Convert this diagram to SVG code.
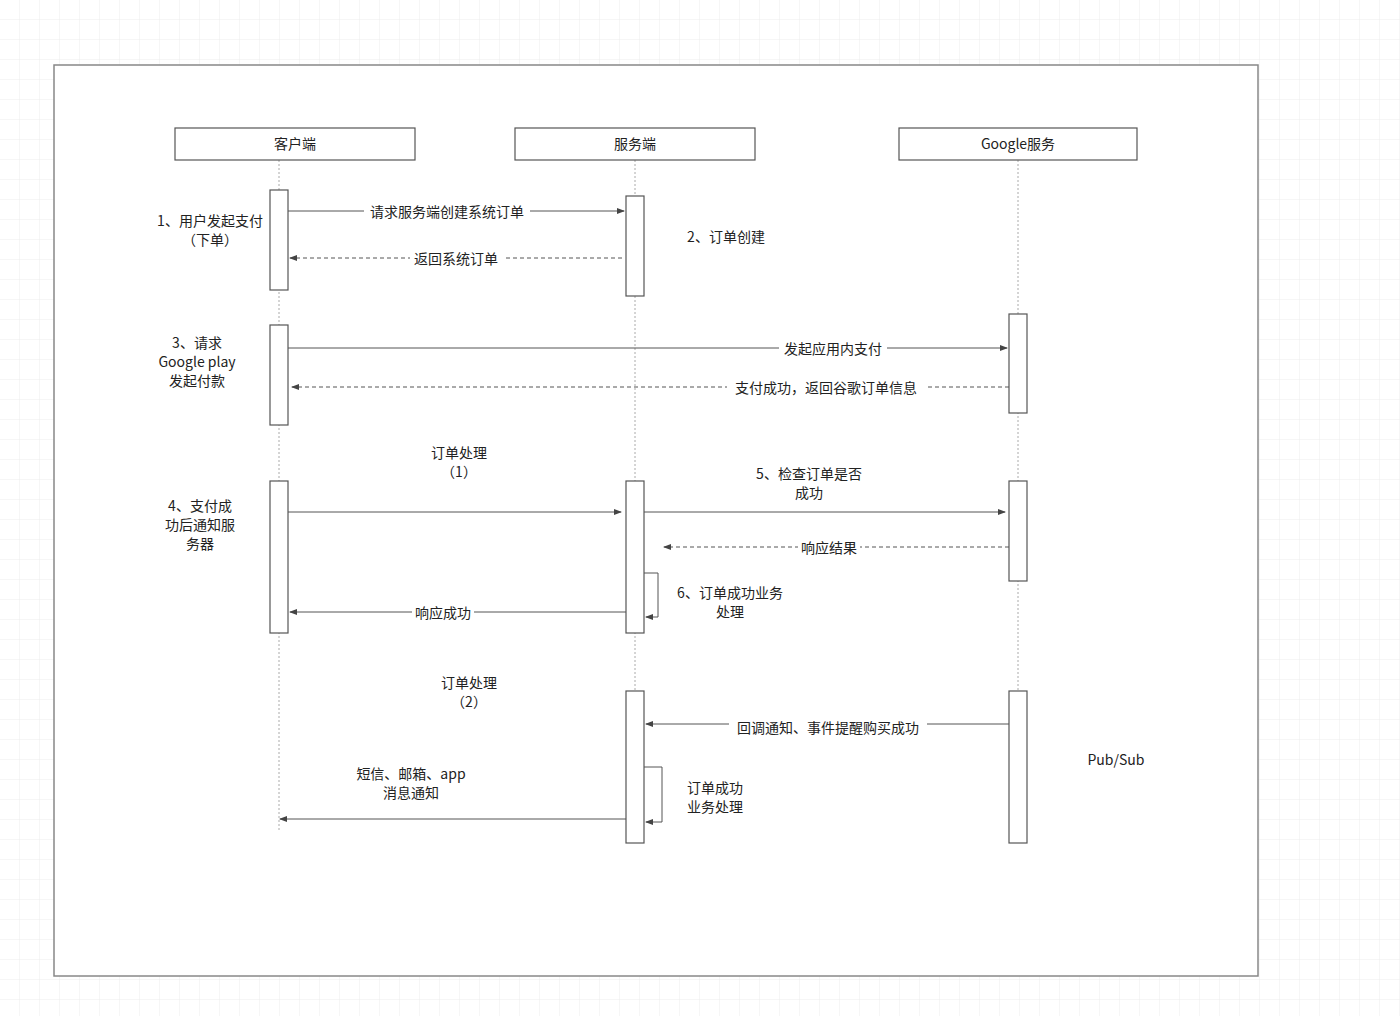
<svg xmlns="http://www.w3.org/2000/svg" width="1400" height="1016" viewBox="0 0 1400 1016">
<defs>
<pattern id="grid" width="20" height="20" patternUnits="userSpaceOnUse"><path d="M20 0V20H0" fill="none" stroke="#ececec" stroke-width="1"/></pattern>
<marker id="a" markerWidth="8" markerHeight="6" refX="7" refY="3" orient="auto" markerUnits="userSpaceOnUse"><path d="M0 0L8 3L0 6z" fill="#444"/></marker>
<style>
text{font-family:"Noto Sans CJK SC","Noto Sans",sans-serif;font-size:14px;fill:#222;text-anchor:middle}
.hd{fill:#fff;stroke:#555;stroke-width:1.2}
.act{fill:#fff;stroke:#555;stroke-width:1.2}
.life{stroke:#aaa;stroke-dasharray:2 2;fill:none}
.m{stroke:#555;stroke-width:1;fill:none;marker-end:url(#a)}
.d{stroke:#555;stroke-width:1;fill:none;stroke-dasharray:4 3;marker-end:url(#a)}
.lb{fill:#fff;stroke:none}
</style>
</defs>
<rect width="1400" height="1016" fill="#fff"/>
<rect width="1400" height="1016" fill="url(#grid)"/>
<rect x="54" y="65" width="1204" height="911" fill="#fff" stroke="#888" stroke-width="1.5"/>
<g id="lifelines">
<line class="life" x1="279" y1="160" x2="279" y2="832"/>
<line class="life" x1="635" y1="160" x2="635" y2="843"/>
<line class="life" x1="1018" y1="160" x2="1018" y2="843"/>
</g>
<g id="client"><rect class="hd" x="175" y="128" width="240" height="32"/><text x="295" y="149">客户端</text></g>
<g id="server"><rect class="hd" x="515" y="128" width="240" height="32"/><text x="635" y="149">服务端</text></g>
<g id="google"><rect class="hd" x="899" y="128" width="238" height="32"/><text x="1018" y="149">Google服务</text></g>
<g id="activations">
<rect class="act" x="270" y="190" width="18" height="100"/>
<rect class="act" x="270" y="325" width="18" height="100"/>
<rect class="act" x="270" y="481" width="18" height="152"/>
<rect class="act" x="626" y="196" width="18" height="100"/>
<rect class="act" x="626" y="481" width="18" height="152"/>
<rect class="act" x="626" y="691" width="18" height="152"/>
<rect class="act" x="1009" y="314" width="18" height="99"/>
<rect class="act" x="1009" y="481" width="18" height="100"/>
<rect class="act" x="1009" y="691" width="18" height="152"/>
</g>
<g id="connectors">
<path class="m" d="M288 211H624"/>
<path class="d" d="M622 258H290"/>
<path class="m" d="M288 348H1007"/>
<path class="d" d="M1009 387H292"/>
<path class="m" d="M288 512H621"/>
<path class="m" d="M644 512H1005"/>
<path class="d" d="M1009 547H664"/>
<path class="m" d="M644 573H658V617H646"/>
<path class="m" d="M626 612H290"/>
<path class="m" d="M1009 724H646"/>
<path class="m" d="M644 767H662V822H646"/>
<path class="m" d="M626 819H280"/>
</g>
<g id="labels">
<rect class="lb" x="364" y="203" width="166" height="18"/><text x="447" y="217">请求服务端创建系统订单</text>
<rect class="lb" x="410" y="250" width="94" height="18"/><text x="456" y="264">返回系统订单</text>
<rect class="lb" x="779" y="340" width="108" height="18"/><text x="833" y="354">发起应用内支付</text>
<rect class="lb" x="727" y="379" width="198" height="18"/><text x="826" y="393">支付成功，返回谷歌订单信息</text>
<rect class="lb" x="798" y="539" width="62" height="18"/><text x="829" y="553">响应结果</text>
<rect class="lb" x="412" y="604" width="62" height="18"/><text x="443" y="618">响应成功</text>
<rect class="lb" x="729" y="716" width="198" height="18"/><text x="828" y="733">回调通知、事件提醒购买成功</text>
<text x="210" y="226">1、用户发起支付</text><text x="210" y="245">（下单）</text>
<text x="726" y="242">2、订单创建</text>
<text x="197" y="348">3、请求</text><text x="197" y="367">Google play</text><text x="197" y="386">发起付款</text>
<text x="459" y="458">订单处理</text><text x="459" y="477">（1）</text>
<text x="809" y="479">5、检查订单是否</text><text x="809" y="498">成功</text>
<text x="200" y="511">4、支付成</text><text x="200" y="530">功后通知服</text><text x="200" y="549">务器</text>
<text x="730" y="598">6、订单成功业务</text><text x="730" y="617">处理</text>
<text x="469" y="688">订单处理</text><text x="469" y="707">（2）</text>
<text x="411" y="779">短信、邮箱、app</text><text x="411" y="798">消息通知</text>
<text x="715" y="793">订单成功</text><text x="715" y="812">业务处理</text>
<text x="1116" y="765">Pub/Sub</text>
</g>
</svg>
